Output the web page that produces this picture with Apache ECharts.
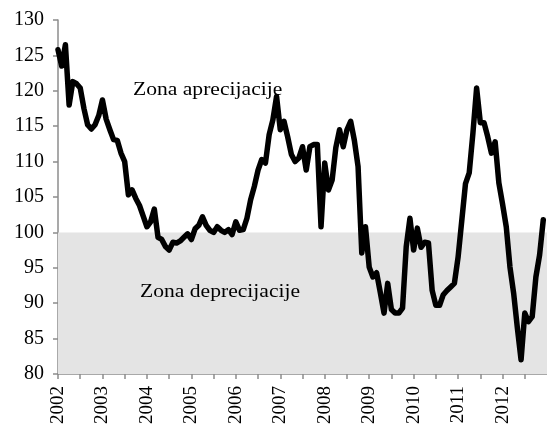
<!DOCTYPE html>
<html>
<head>
<meta charset="utf-8">
<script src="https://cdn.jsdelivr.net/npm/echarts@6/dist/echarts.min.js"></script>
<style>
  html, body { margin: 0; padding: 0; background: #fff; }
  #chart { width: 547px; height: 428px; }
</style>
</head>
<body>
<div id="chart"></div>
<script>
// mjesečne vrijednosti indeksa, po godinama
const y2002 = [125.8, 123.5, 126.5, 118.0, 121.3, 121.0, 120.4, 117.5, 115.2, 114.6, 115.2, 116.5]
const y2003 = [118.7, 116.0, 114.5, 113.1, 113.0, 111.2, 110.0, 105.3, 106.0, 104.8, 103.8, 102.3]
const y2004 = [100.8, 101.5, 103.3, 99.3, 99.0, 98.0, 97.5, 98.6, 98.5, 98.8, 99.3, 99.8]
const y2005 = [99.0, 100.5, 101.0, 102.2, 101.0, 100.3, 100.0, 100.8, 100.3, 100.0, 100.4, 99.7]
const y2006 = [101.5, 100.3, 100.4, 102.0, 104.6, 106.5, 108.8, 110.3, 109.8, 113.8, 115.9, 119.2]
const y2007 = [114.5, 115.7, 113.5, 111.0, 110.0, 110.5, 112.1, 108.8, 112.1, 112.4, 112.4, 100.8]
const y2008 = [109.8, 106.0, 107.4, 112.0, 114.5, 112.1, 114.5, 115.7, 113.0, 109.3, 97.1, 100.8]
const y2009 = [95.1, 93.7, 94.3, 91.5, 88.6, 92.8, 89.1, 88.6, 88.6, 89.3, 98.0, 102.0]
const y2010 = [97.5, 100.6, 97.9, 98.6, 98.5, 91.8, 89.7, 89.7, 91.2, 91.8, 92.3, 92.8]
const y2011 = [96.5, 101.7, 106.9, 108.4, 114.0, 120.4, 115.5, 115.5, 113.5, 111.2, 112.8, 107.0]
const y2012 = [104.0, 100.8, 95.1, 91.4, 86.5, 82.0, 88.6, 87.4, 88.1, 93.7, 96.8, 101.8]

const years = [2002, 2003, 2004, 2005, 2006, 2007, 2008, 2009, 2010, 2011, 2012]
const yearData = [y2002, y2003, y2004, y2005, y2006, y2007, y2008, y2009, y2010, y2011, y2012]

// granica zona
const zoneMin = 80
const zoneLimit = 100

const points = []
years.forEach((yr, k) => {
  yearData[k].forEach((v, m) => {
    points.push([yr + m / 12, v])
  })
})

const chart = echarts.init(document.getElementById('chart'))
const font = '"Liberation Serif", "Times New Roman", serif'
const axisGrey = '#8c8c8c'

const option = {
  animation: false,
  grid: {
    left: 58,
    right: 0,
    top: 20,
    bottom: 54
  },
  xAxis: {
    type: 'value',
    min: 2002,
    max: 2013,
    interval: 0.5,
    axisLine: { show: true, lineStyle: { color: axisGrey, width: 1.5 } },
    axisTick: { show: true, length: 5, lineStyle: { color: axisGrey, width: 1.5 } },
    splitLine: { show: false },
    axisLabel: {
      rotate: 90,
      margin: 12,
      fontFamily: font,
      fontSize: 19,
      color: '#000',
      showMaxLabel: false,
      formatter: (v) => (Number.isInteger(v) ? String(v) : '')
    }
  },
  yAxis: {
    type: 'value',
    min: 80,
    max: 130,
    interval: 5,
    axisLine: { show: true, lineStyle: { color: axisGrey, width: 1.5 } },
    axisTick: { show: true, length: 5, lineStyle: { color: axisGrey, width: 1.5 } },
    splitLine: { show: false },
    axisLabel: {
      margin: 14,
      fontFamily: font,
      fontSize: 20,
      color: '#000'
    }
  },
  series: [
    {
      type: 'line',
      data: points,
      showSymbol: false,
      z: 3,
      lineStyle: { color: '#000', width: 5.5, join: 'round', cap: 'round' },
      markArea: {
        silent: true,
        itemStyle: { color: '#e4e4e4' },
        data: [[{ yAxis: zoneMin }, { yAxis: zoneLimit }]]
      }
    }
  ],
  graphic: [
    {
      type: 'text',
      x: 133,
      y: 81,
      scaleX: 1.2,
      z: 100,
      style: { text: 'Zona aprecijacije', font: '18px ' + font, fill: '#000' }
    },
    {
      type: 'text',
      x: 140,
      y: 283,
      scaleX: 1.2,
      z: 100,
      style: { text: 'Zona deprecijacije', font: '18px ' + font, fill: '#000' }
    }
  ]
}

chart.setOption(option)
</script>
</body>
</html>
